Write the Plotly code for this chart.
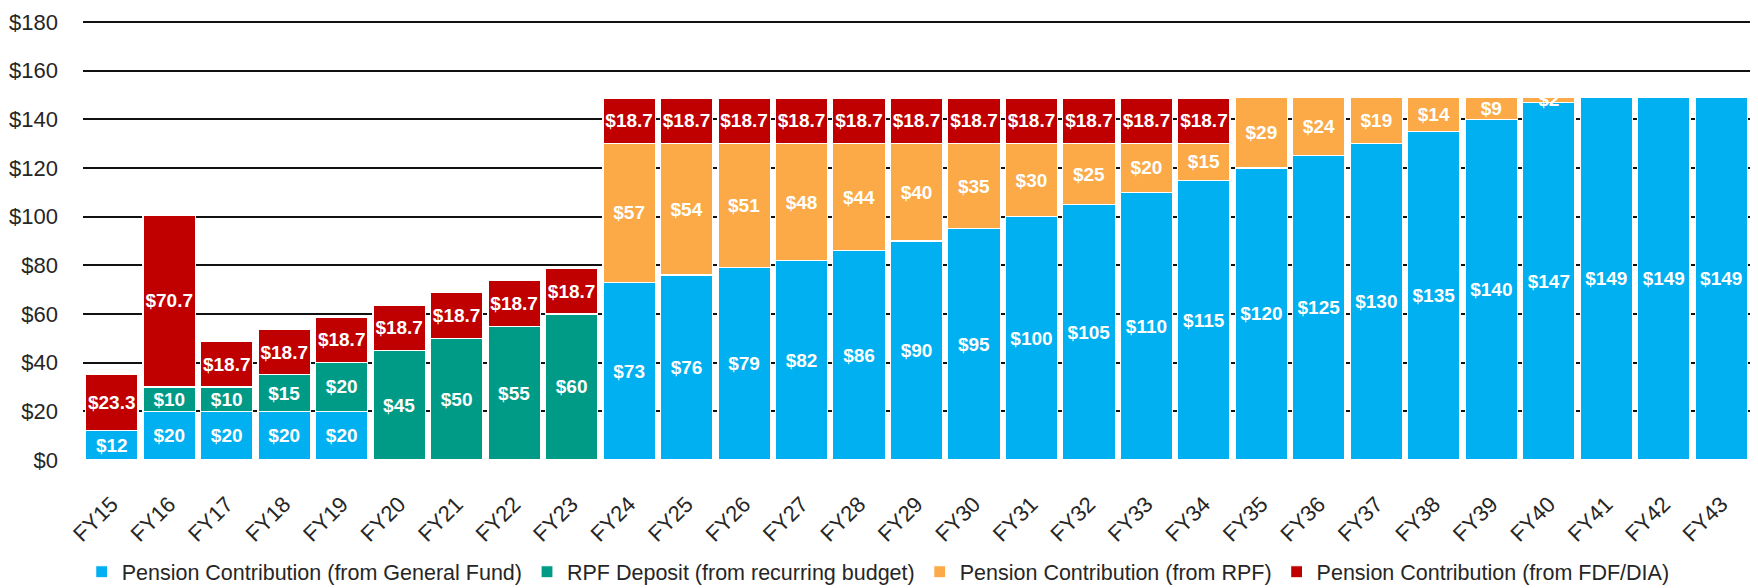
import plotly.graph_objects as go

years = ['FY15', 'FY16', 'FY17', 'FY18', 'FY19', 'FY20', 'FY21', 'FY22', 'FY23', 'FY24',
         'FY25', 'FY26', 'FY27', 'FY28', 'FY29', 'FY30', 'FY31', 'FY32', 'FY33', 'FY34',
         'FY35', 'FY36', 'FY37', 'FY38', 'FY39', 'FY40', 'FY41', 'FY42', 'FY43']

general_fund = [12, 20, 20, 20, 20, 0, 0, 0, 0, 73,
                76, 79, 82, 86, 90, 95, 100, 105, 110, 115,
                120, 125, 130, 135, 140, 147, 149, 149, 149]
rpf_deposit = [0, 10, 10, 15, 20, 45, 50, 55, 60, 0,
               0, 0, 0, 0, 0, 0, 0, 0, 0, 0,
               0, 0, 0, 0, 0, 0, 0, 0, 0]
rpf_contribution = [0, 0, 0, 0, 0, 0, 0, 0, 0, 57,
                    54, 51, 48, 44, 40, 35, 30, 25, 20, 15,
                    29, 24, 19, 14, 9, 2, 0, 0, 0]
fdf_dia = [23.3, 70.7, 18.7, 18.7, 18.7, 18.7, 18.7, 18.7, 18.7, 18.7,
           18.7, 18.7, 18.7, 18.7, 18.7, 18.7, 18.7, 18.7, 18.7, 18.7,
           0, 0, 0, 0, 0, 0, 0, 0, 0]

y_ticks = [0, 20, 40, 60, 80, 100, 120, 140, 160, 180]

FONT = 'Liberation Sans, Arial, sans-serif'
TEXT_COLOR = '#262626'


def fmt(v):
    if v == 0:
        return ''
    return f'${v:g}'


series = [
    ('Pension Contribution (from General Fund)', general_fund, '#00B0F0'),
    ('RPF Deposit (from recurring budget)', rpf_deposit, '#009B87'),
    ('Pension Contribution (from RPF)', rpf_contribution, '#FCAA47'),
    ('Pension Contribution (from FDF/DIA)', fdf_dia, '#C00000'),
]

fig = go.Figure()
for name, vals, color in series:
    fig.add_trace(go.Bar(
        x=years, y=vals, name=name,
        marker=dict(color=color, line=dict(color='white', width=1.2)),
        text=[fmt(v) for v in vals],
        textposition='inside',
        insidetextanchor='middle',
        textangle=0,
        textfont=dict(family=FONT, size=19, color='white', weight='bold'),
        hoverinfo='skip',
    ))

# page body keeps its 8px margin, so the figure is sized to fit the visible window
fig.update_layout(
    barmode='stack',
    bargap=0.09,
    width=1750, height=580,
    margin=dict(l=75, r=8, t=12, b=128, autoexpand=False),
    plot_bgcolor='white',
    paper_bgcolor='white',
    uniformtext=dict(minsize=19, mode='show'),
    font=dict(family=FONT, color=TEXT_COLOR),
    legend=dict(
        orientation='h', x=0.477, xanchor='center',
        y=-0.254, yanchor='middle',
        font=dict(family=FONT, size=21.5, color=TEXT_COLOR),
        itemwidth=30, traceorder='normal',
    ),
)
fig.update_xaxes(
    tickangle=-45,
    tickfont=dict(family=FONT, size=22, color=TEXT_COLOR),
    showgrid=False, showline=False, ticks='',
    ticklabelstandoff=26,
)
fig.update_yaxes(
    range=[0, 180.8],
    tickvals=y_ticks,
    ticktext=[f'${v}' for v in y_ticks],
    tickfont=dict(family=FONT, size=22, color=TEXT_COLOR),
    showgrid=True, gridcolor='#111111', gridwidth=1.5,
    zeroline=False, showline=False, ticks='',
    ticklabelstandoff=24,
    ticklabeloverflow='allow',
)

fig.write_html('out.html')
